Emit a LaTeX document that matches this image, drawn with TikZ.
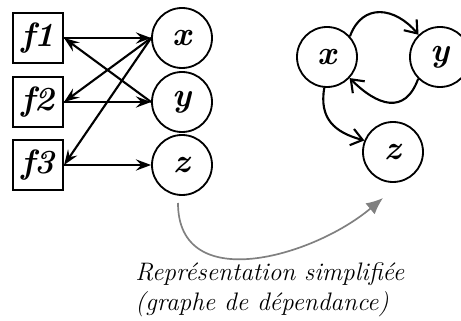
\documentclass[tikz,border=0pt]{standalone}
\usetikzlibrary{arrows.meta, positioning}
\definecolor{arcgray}{HTML}{808080}
\tikzstyle{fbox} = [rectangle, minimum width=1.25cm, minimum height=1.25cm, inner sep=0pt,
                    draw=black, line width=1.5pt, font=\fontsize{24}{28}\selectfont\bfseries\itshape]
\tikzstyle{var} = [circle, minimum size=1.5cm, inner sep=0pt,
                   draw=black, line width=1.3pt, font=\fontsize{24}{28}\selectfont\bfseries\itshape]
\tikzstyle{arrow} = [-{Stealth[length=3.8mm, width=2.8mm, inset=1.4mm]}, line width=1.5pt]
\tikzstyle{dep} = [-{Straight Barb[length=2.8mm, width=4.2mm]}, line width=1.5pt]

\begin{document}
\begin{tikzpicture}
    \useasboundingbox (0,0) rectangle (11.525,8);

    % Functions and variables
    \node[fbox] (f1) at (0.95,7.05) {f1};
    \node[fbox] (f2) at (0.95,5.45) {f2};
    \node[fbox] (f3) at (0.95,3.875) {f3};
    \node[var] (x) at (4.55,7.05) {x};
    \node[var] (y) at (4.55,5.45) {y};
    \node[var] (z) at (4.55,3.875) {z};

    \draw[arrow] (f1.east) -- (x.west);
    \draw[arrow] (y.west) -- (f1.east);
    \draw[arrow] (x.west) -- (f2.east);
    \draw[arrow] (f2.east) -- (y.west);
    \draw[arrow] (x.west) -- (f3.east);
    \draw[arrow] (f3.east) -- (z.west);

    % Dependency graph
    \node[var] (gx) at (8.175,6.575) {x};
    \node[var] (gy) at (11.0,6.575) {y};
    \node[var] (gz) at (9.825,4.2) {z};

    \draw[dep] (gx.42) to[out=70, in=130, looseness=1.35] (gy.134);
    \draw[dep] (gy.225) to[out=-110, in=-45, looseness=1.45] (gx.-43);
    \draw[dep] (gx.-95) to[out=-100, in=165, looseness=1.2] (gz.158);

    % Simplification arrow
    \coordinate (from) at (4.45,2.925);
    \coordinate (to) at (9.575,3.05);
    \draw[-{Latex[length=4.2mm, width=3.6mm]}, arcgray, line width=1.2pt]
        (from) to[out=-90, in=-140, looseness=1.15] (to);

    \node[anchor=west, align=left, inner sep=0pt,
          font=\fontsize{18}{21.5}\selectfont\itshape] (caption) at (3.375,0.75)
        {Représentation simplifiée\\(graphe de dépendance)};
\end{tikzpicture}
\end{document}
